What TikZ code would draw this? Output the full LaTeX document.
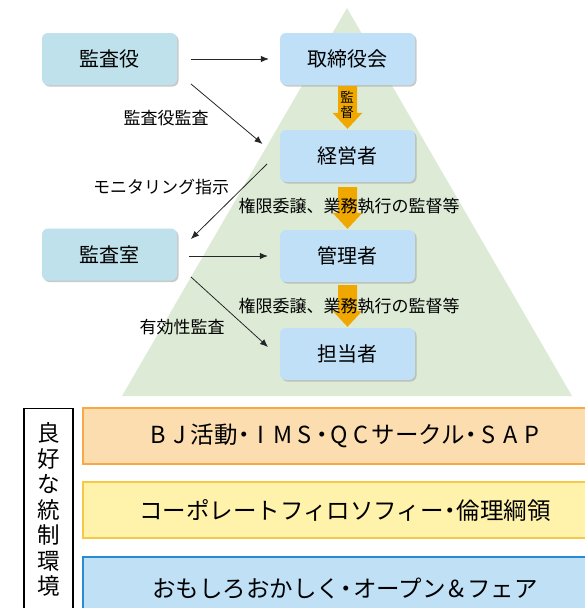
\documentclass[tikz,border=0pt]{standalone}
\usepackage{fontspec}
\setmainfont{Noto Sans CJK JP}
\usetikzlibrary{calc,shadows,arrows.meta}
\definecolor{triG}{RGB}{221,235,214}
\definecolor{boxL}{RGB}{190,225,235}
\definecolor{boxR}{RGB}{191,224,246}
\definecolor{arrO}{RGB}{240,168,0}
\definecolor{orangeF}{RGB}{251,221,176}
\definecolor{orangeB}{RGB}{245,170,70}
\definecolor{yellowF}{RGB}{255,242,170}
\definecolor{yellowB}{RGB}{245,200,70}
\definecolor{blueF}{RGB}{192,224,246}
\definecolor{blueB}{RGB}{40,140,210}
\newcommand{\fatarrow}[4]{%
  \fill[arrO] let \p1=(#1.south), \p2=(#2.north) in
    (\x1-9.5pt,\y1-#3pt) -- (\x1+9.5pt,\y1-#3pt) -- (\x1+9.5pt,\y2+#4pt+16pt)
    -- (\x1+15pt,\y2+#4pt+16pt) -- (\x1,\y2+#4pt) -- (\x1-15pt,\y2+#4pt+16pt)
    -- (\x1-9.5pt,\y2+#4pt+16pt) -- cycle;}
\newcommand{\fc}[1]{\makebox[0.92em]{#1}}
\newcommand{\hd}{\makebox[0.55em]{・}}
\begin{document}
\begin{tikzpicture}[x=1pt,y=-1pt,
  box/.style={rounded corners=6pt, minimum width=135pt, minimum height=52pt,
    font=\fontsize{20}{23}\selectfont,
    drop shadow={shadow xshift=1.5pt,shadow yshift=-1.5pt,fill=black!35,opacity=.6}},
  boxl/.style={box, fill=boxL},
  boxr/.style={box, fill=boxR},
  arr/.style={-{Latex[length=8pt,width=6.5pt]}, line width=0.8pt, draw=black!85},
  lbl/.style={font=\fontsize{17}{20}\selectfont, inner sep=0pt},
  band/.style={line width=1.2pt, minimum width=524pt, minimum height=56pt,
    font=\fontsize{23.5}{28}\selectfont}]
\clip (0,0) rectangle (585,608);
\fill[white] (0,0) rectangle (585,608);
% pyramid
\fill[triG] (347,8) -- (572,396) -- (122,396) -- cycle;
% boxes
\node[boxl] (kansayaku) at (109.5,59) {監査役};
\node[boxr] (torishimari) at (347.5,59) {取締役会};
\node[boxr] (keiei) at (347.5,156) {経営者};
\node[boxl] (kansashitsu) at (109.5,254.5) {監査室};
\node[boxr] (kanri) at (347.5,256) {管理者};
\node[boxr] (tanto) at (347.5,354) {担当者};
% orange arrows
\fatarrow{torishimari}{keiei}{1}{1}
\fatarrow{keiei}{kanri}{5}{1}
\fatarrow{kanri}{tanto}{3}{1}
\node[align=center, inner sep=0pt, font=\fontsize{13.5}{14.5}\selectfont] (kantoku) at (347,105) {監\\督};
% thin arrows
\draw[arr, shorten <=13.5pt, shorten >=11pt] (kansayaku.east) -- (torishimari.west);
\draw[arr, shorten <=12pt, shorten >=12pt] (kansashitsu.east |- kanri.west) -- (kanri.west);
\coordinate (d1s) at (191,84);  \coordinate (d1e) at (262.5,144);
\coordinate (d2s) at (267,164); \coordinate (d2e) at (191,239);
\coordinate (d3s) at (191,277); \coordinate (d3e) at (268,347);
\draw[arr] (d1s) -- (d1e);
\draw[arr] (d2s) -- (d2e);
\draw[arr] (d3s) -- (d3e);
% labels
\node[lbl] (l1) at (166,118) {監査役監査};
\node[lbl] (l2) at (161,187) {モニタリング指示};
\node[lbl] (l3) at (349,206) {権限委譲、業務執行の監督等};
\node[lbl] (l4) at (349,306) {権限委譲、業務執行の監督等};
\node[lbl] (l5) at (182,327) {有効性監査};
% bottom bands
\node[band, draw=orangeB, fill=orangeF] (b1) at (345,436) {\fc{B}\fc{J}活動\hd\fc{I}\fc{M}\fc{S}\hd\fc{Q}\fc{C}サークル\hd\fc{S}\fc{A}\fc{P}};
\node[band, draw=yellowB, fill=yellowF] (b2) at (345,510) {コーポレートフィロソフィー\hd 倫理綱領};
\node[band, draw=blueB, fill=blueF, minimum height=64pt] (b3) at (345,589) {おもしろおかしく\hd オープン\fc{\&}フェア};
\node[draw=black, line width=1.1pt, minimum width=49pt, minimum height=215pt, anchor=north] (vbox) at (48.5,408) {};
\node[align=center, inner sep=0pt, font=\fontsize{22.5}{25.5}\selectfont] (vtext) at (48.5,509.5) {良\\好\\な\\統\\制\\環\\境};
\end{tikzpicture}
\end{document}
